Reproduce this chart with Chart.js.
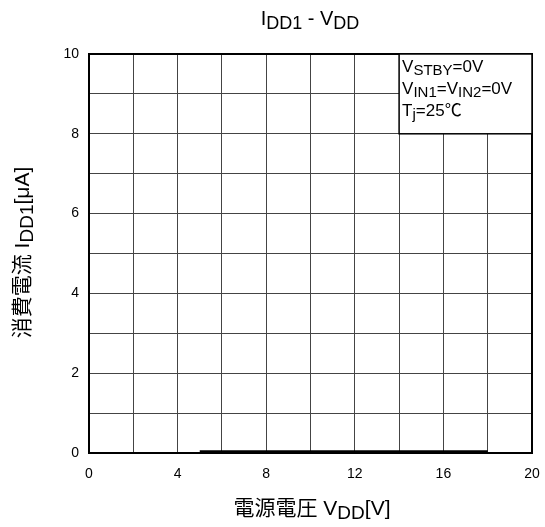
<!DOCTYPE html>
<html>
<head>
<meta charset="utf-8">
<script src="https://cdn.jsdelivr.net/npm/chart.js@4/dist/chart.umd.min.js"></script>
<style>
html,body{margin:0;padding:0;background:#fff;}
#wrap{width:545px;height:527px;position:relative;}
</style>
</head>
<body>
<div id="wrap"><canvas id="c" width="545" height="527"></canvas></div>
<script>
// ---- data ----
const vddValues = [5, 6, 8, 10, 12, 14, 16, 18];
const idd1Values = [0.03, 0.03, 0.03, 0.03, 0.03, 0.03, 0.03, 0.03];
const xTickLabels = [0, 4, 8, 12, 16, 20];
const yTickLabels = [0, 2, 4, 6, 8, 10];
const titleParts = [["I", false], ["DD1", true], [" - V", false], ["DD", true]];
const xTitleParts = [["電源電圧 V", false], ["DD", true], ["[V]", false]];
const yTitleParts = [["消費電流 I", false], ["DD1", true], ["[μA]", false]];
const conditionLines = [
  [["V", false], ["STBY", true], ["=0V", false]],
  [["V", false], ["IN1", true], ["=V", false], ["IN2", true], ["=0V", false]],
  [["T", false], ["j", true], ["=25℃", false]]
];
const conditionBox = { xFrom: 14, xTo: 20, yFrom: 8, yTo: 10 };

const FONT = "'Liberation Sans', Arial, 'Noto Sans CJK JP', sans-serif";

function richWidth(ctx, parts, size, subSize) {
  let w = 0;
  for (const [t, sub] of parts) {
    ctx.font = (sub ? subSize : size) + "px " + FONT;
    w += ctx.measureText(t).width;
  }
  return w;
}
function drawRich(ctx, parts, x, y, size, subSize, subOff, align) {
  const w = richWidth(ctx, parts, size, subSize);
  let cx = align === "center" ? x - w / 2 : x;
  ctx.textBaseline = "alphabetic";
  ctx.textAlign = "left";
  for (const [t, sub] of parts) {
    ctx.font = (sub ? subSize : size) + "px " + FONT;
    ctx.fillText(t, cx, y + (sub ? subOff : 0));
    cx += ctx.measureText(t).width;
  }
}

const decor = {
  id: "decor",
  afterDraw(chart) {
    const ctx = chart.ctx;
    const a = chart.chartArea;
    const sx = chart.scales.x, sy = chart.scales.y;
    ctx.save();
    // frame
    ctx.strokeStyle = "#000";
    ctx.lineWidth = 2;
    ctx.strokeRect(a.left, a.top, a.right - a.left, a.bottom - a.top);
    // condition box
    const bx = sx.getPixelForValue(conditionBox.xFrom);
    const bx2 = sx.getPixelForValue(conditionBox.xTo);
    const by = sy.getPixelForValue(conditionBox.yTo);
    const by2 = sy.getPixelForValue(conditionBox.yFrom);
    ctx.fillStyle = "#fff";
    ctx.fillRect(bx, by, bx2 - bx, by2 - by);
    ctx.lineWidth = 1.5;
    ctx.strokeRect(bx, by, bx2 - bx, by2 - by);
    ctx.fillStyle = "#000";
    conditionLines.forEach((ln, i) => {
      drawRich(ctx, ln, bx + 3, by + 18 + i * 22, 17, 15, 3, "left");
    });
    // titles
    drawRich(ctx, titleParts, 310, 25, 20, 18, 4, "center");
    drawRich(ctx, xTitleParts, 312, 515, 21, 19, 4, "center");
    ctx.translate(29, (a.top + a.bottom) / 2 - 1);
    ctx.rotate(-Math.PI / 2);
    drawRich(ctx, yTitleParts, 0, 0, 21, 19, 4, "center");
    ctx.restore();
  }
};

new Chart(document.getElementById("c"), {
  type: "line",
  data: {
    datasets: [{
      data: vddValues.map((v, i) => ({ x: v, y: idd1Values[i] })),
      borderColor: "#000",
      borderWidth: 3,
      pointRadius: 0,
      fill: false,
      tension: 0
    }]
  },
  options: {
    responsive: false,
    animation: false,
    events: [],
    layout: { padding: { left: 0, top: 54, right: 13, bottom: 0 } },
    plugins: { legend: { display: false }, tooltip: { enabled: false }, title: { display: false } },
    scales: {
      x: {
        type: "linear", min: 0, max: 20,
        afterFit(s) { s.height = 74; s.paddingLeft = 0; s.paddingRight = 0; },
        grid: { color: "#444", lineWidth: 1, drawTicks: false },
        border: { display: false },
        ticks: {
          stepSize: 2, padding: 13, color: "#000",
          font: { family: FONT, size: 14 },
          callback: v => xTickLabels.includes(v) ? String(v) : ""
        }
      },
      y: {
        type: "linear", min: 0, max: 10,
        afterFit(s) { s.width = 89; s.paddingTop = 0; s.paddingBottom = 0; },
        grid: { color: "#444", lineWidth: 1, drawTicks: false },
        border: { display: false },
        ticks: {
          stepSize: 1, padding: 10, color: "#000",
          font: { family: FONT, size: 14 },
          callback: v => yTickLabels.includes(v) ? String(v) : ""
        }
      }
    }
  },
  plugins: [decor]
});
</script>
</body>
</html>
